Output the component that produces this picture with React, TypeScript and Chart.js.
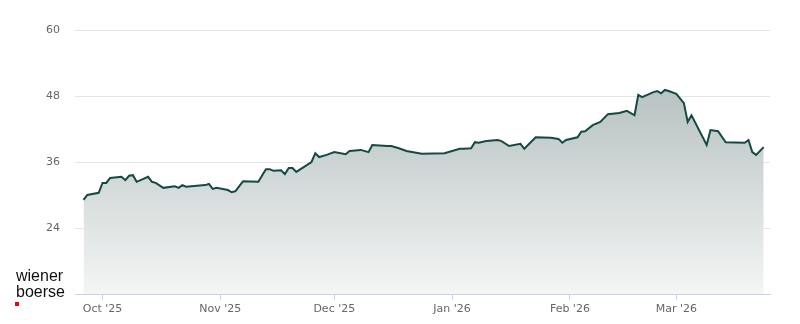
import React, { useEffect, useRef } from "react";
import { Chart, registerables } from "chart.js";

Chart.register(...registerables);

const dates: string[] = [
  "2025-09-26", "2025-09-27", "2025-09-30", "2025-10-01", "2025-10-02", "2025-10-03",
  "2025-10-06", "2025-10-07", "2025-10-08", "2025-10-09", "2025-10-10", "2025-10-13",
  "2025-10-14", "2025-10-15", "2025-10-17", "2025-10-20", "2025-10-21", "2025-10-22",
  "2025-10-23", "2025-10-28", "2025-10-29", "2025-10-30", "2025-10-31", "2025-11-03",
  "2025-11-04", "2025-11-05", "2025-11-06", "2025-11-07", "2025-11-11", "2025-11-13",
  "2025-11-14", "2025-11-15", "2025-11-17", "2025-11-18", "2025-11-19", "2025-11-20",
  "2025-11-21", "2025-11-25", "2025-11-26", "2025-11-27", "2025-11-29", "2025-12-01",
  "2025-12-04", "2025-12-05", "2025-12-08", "2025-12-10", "2025-12-11", "2025-12-15",
  "2025-12-16", "2025-12-18", "2025-12-20", "2025-12-24", "2025-12-30", "2026-01-03",
  "2026-01-04", "2026-01-06", "2026-01-07", "2026-01-08", "2026-01-10", "2026-01-13",
  "2026-01-14", "2026-01-16", "2026-01-19", "2026-01-20", "2026-01-23", "2026-01-27",
  "2026-01-29", "2026-01-30", "2026-01-31", "2026-02-03", "2026-02-04", "2026-02-05",
  "2026-02-07", "2026-02-09", "2026-02-11", "2026-02-14", "2026-02-16", "2026-02-18",
  "2026-02-19", "2026-02-20", "2026-02-23", "2026-02-24", "2026-02-25", "2026-02-26",
  "2026-02-27", "2026-03-01", "2026-03-03", "2026-03-04", "2026-03-05", "2026-03-09",
  "2026-03-10", "2026-03-12", "2026-03-14", "2026-03-19", "2026-03-20", "2026-03-21",
  "2026-03-22", "2026-03-24",
];

const prices: number[] = [
  29.1, 30.0, 30.4, 32.2, 32.2, 33.1,
  33.3, 32.7, 33.5, 33.6, 32.4, 33.3,
  32.4, 32.2, 31.3, 31.6, 31.3, 31.8,
  31.5, 31.8, 32.0, 31.1, 31.3, 30.9,
  30.5, 30.7, 31.6, 32.5, 32.4, 34.7,
  34.7, 34.4, 34.5, 33.8, 34.9, 34.9,
  34.2, 36.0, 37.6, 36.9, 37.3, 37.8,
  37.4, 38.0, 38.2, 37.8, 39.1, 38.9,
  38.9, 38.5, 38.0, 37.5, 37.6, 38.4,
  38.4, 38.5, 39.6, 39.5, 39.8, 40.0,
  39.8, 38.9, 39.3, 38.4, 40.5, 40.4,
  40.2, 39.5, 40.0, 40.5, 41.5, 41.6,
  42.7, 43.3, 44.7, 44.9, 45.3, 44.5,
  48.2, 47.8, 48.7, 48.9, 48.5, 49.1,
  48.9, 48.4, 46.7, 43.3, 44.5, 39.1,
  41.8, 41.6, 39.6, 39.5, 40.0, 37.8,
  37.3, 38.7,
];

const monthTickDates: string[] = ["2025-10-01", "2025-11-01", "2025-12-01", "2026-01-01", "2026-02-01", "2026-03-01"];
const monthTickLabels: string[] = ["Oct '25", "Nov '25", "Dec '25", "Jan '26", "Feb '26", "Mar '26"];
const yTickValues: number[] = [12, 24, 36, 48, 60];

const BASE = Date.UTC(2025, 9, 1);
const dayOf = (s: string) => {
  const [y, m, d] = s.split("-").map(Number);
  return (Date.UTC(y, m - 1, d) - BASE) / 86400000;
};

export default function App() {
  const ref = useRef<HTMLCanvasElement | null>(null);

  useEffect(() => {
    if (!ref.current) return;
    const points = dates.map((d, i) => ({ x: dayOf(d), y: prices[i] }));
    const tickDays = monthTickDates.map(dayOf);
    const font = { family: "'DejaVu Sans', sans-serif", size: 11 };

    const chart = new Chart(ref.current, {
      type: "line",
      data: {
        datasets: [
          {
            data: points,
            borderColor: "#134a42",
            borderWidth: 2,
            pointRadius: 0,
            tension: 0,
            fill: "origin",
            backgroundColor: (ctx: any) => {
              const { chart } = ctx;
              const area = chart.chartArea;
              if (!area) return "rgba(180,193,191,0.5)";
              const g = chart.ctx.createLinearGradient(0, area.top, 0, area.bottom);
              g.addColorStop(0, "#aebbb9");
              g.addColorStop(0.3, "#bdc7c6");
              g.addColorStop(1, "#f4f5f5");
              return g;
            },
          },
        ],
      },
      options: {
        animation: false,
        responsive: false,
        layout: { padding: { top: 30, right: 30, left: 0, bottom: 0 } },
        plugins: { legend: { display: false }, tooltip: { enabled: false } },
        scales: {
          x: {
            type: "linear",
            min: -7.24,
            max: 175.66,
            afterBuildTicks: (scale: any) => {
              scale.ticks = tickDays.map((v) => ({ value: v }));
            },
            afterFit: (scale: any) => {
              scale.height = 30;
            },
            ticks: {
              autoSkip: false,
              maxRotation: 0,
              padding: 3,
              color: "#666666",
              font,
              callback: (_v: any, i: number) => monthTickLabels[i],
            },
            grid: {
              drawOnChartArea: false,
              drawTicks: true,
              tickLength: 6,
              color: "#c5d2ea",
            },
            border: { color: "#c5d2ea", width: 1 },
          },
          y: {
            min: 12,
            max: 60,
            afterBuildTicks: (scale: any) => {
              scale.ticks = yTickValues.map((v) => ({ value: v }));
            },
            afterFit: (scale: any) => {
              scale.width = 75;
            },
            ticks: {
              padding: 15,
              color: "#666666",
              font,
              callback: (v: any) => (v === 12 ? "" : String(v)),
            },
            grid: {
              drawTicks: false,
              color: (ctx: any) => (ctx.tick && ctx.tick.value === 12 ? "rgba(0,0,0,0)" : "#e5e5e5"),
            },
            border: { display: false },
          },
        },
      },
    } as any);
    return () => chart.destroy();
  }, []);

  return (
    <div style={{ position: "absolute", left: 0, top: 0, width: 800, height: 324, background: "#fff" }}>
      <canvas ref={ref} width={800} height={324} style={{ display: "block" }} />
      <div
        style={{
          position: "absolute",
          left: 16,
          top: 267.5,
          fontFamily: "'Liberation Sans', Arial, sans-serif",
          fontSize: 16,
          lineHeight: "16px",
          color: "#111",
        }}
      >
        <div>wiener</div>
        <div>boerse</div>
      </div>
      <div style={{ position: "absolute", left: 15, top: 302, width: 4, height: 4, background: "#e30613" }} />
    </div>
  );
}
